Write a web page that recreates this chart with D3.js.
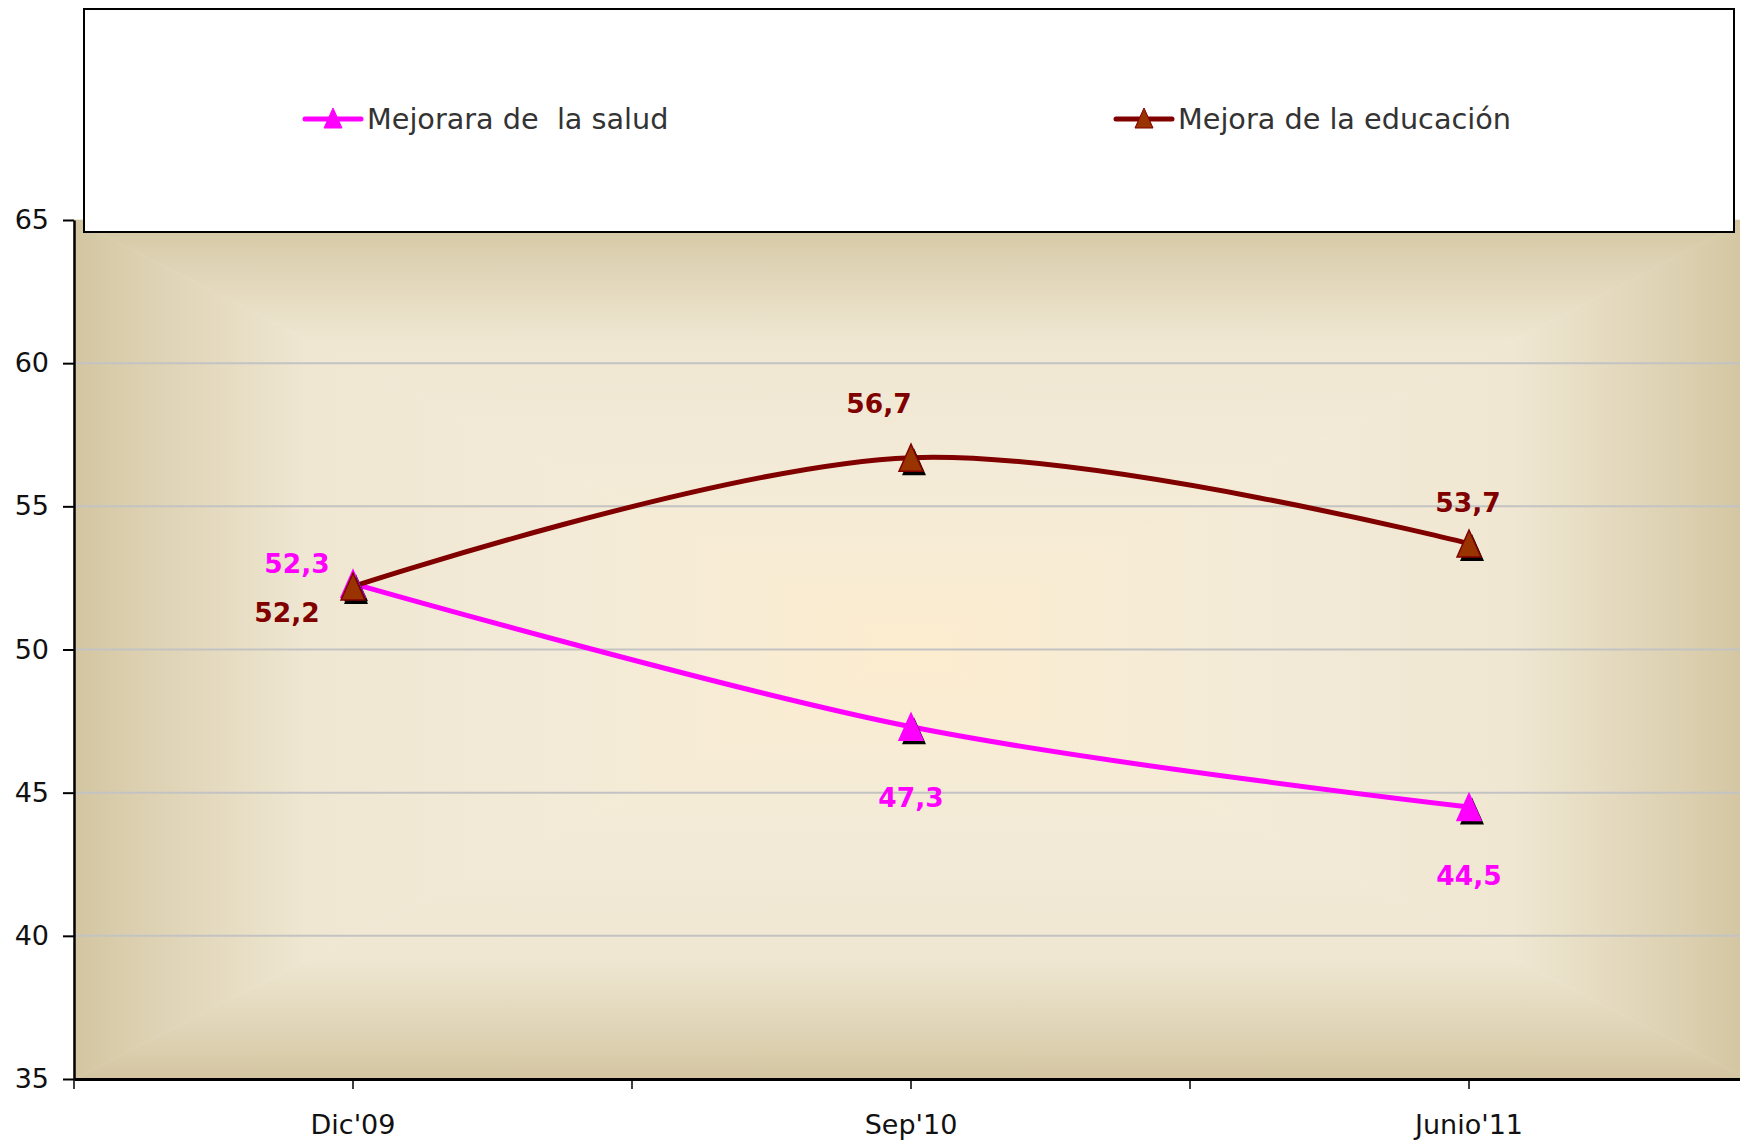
<!DOCTYPE html>
<html>
<head>
<meta charset="utf-8">
<script src="https://cdn.jsdelivr.net/npm/d3@7"></script>
<style>
  body { margin: 0; background: #fff; }
  svg { display: block; }
  text { white-space: pre; }
</style>
</head>
<body>
<div class="chart"></div>
<script>
// data
var categories = ["Dic'09", "Sep'10", "Junio'11"];
var saludValues = [52.3, 47.3, 44.5];
var educacionValues = [52.2, 56.7, 53.7];
var seriesNames = ["Mejorara de  la salud", "Mejora de la educación"];
var yTicks = [35, 40, 45, 50, 55, 60, 65];

var width = 1740, height = 1144;

var svg = d3.select(".chart").append("svg")
    .attr("width", width)
    .attr("height", height);

// plot area (runs a little past the right edge like the original)
var plotL = 74, plotR = 1748, plotT = 220, plotB = 1079;

var x = d3.scaleBand()
    .domain(categories)
    .range([plotL, plotR])
    .padding(0);

var y = d3.scaleLinear()
    .domain([35, 65])
    .range([plotB, plotT]);

// background: rectangular "from center" gradient, built from 4 triangles
var defs = svg.append("defs");
var cx = (plotL + plotR) / 2, cy = (plotT + plotB) / 2;
var stops = [
  [0, "#d3c5a0"], [0.07, "#dbcfaf"], [0.28, "#efe7d2"],
  [0.6, "#f3ebd7"], [0.85, "#f9ecd3"], [1, "#fdedcf"]
];
var sides = [
  { id: "gTop", x1: cx, y1: plotT, x2: cx, y2: cy, pts: [[plotL, plotT], [plotR, plotT], [cx, cy]] },
  { id: "gBot", x1: cx, y1: plotB, x2: cx, y2: cy, pts: [[plotL, plotB], [plotR, plotB], [cx, cy]] },
  { id: "gLeft", x1: plotL, y1: cy, x2: cx, y2: cy, pts: [[plotL, plotT], [plotL, plotB], [cx, cy]] },
  { id: "gRight", x1: plotR, y1: cy, x2: cx, y2: cy, pts: [[plotR, plotT], [plotR, plotB], [cx, cy]] }
];
sides.forEach(function(s) {
  var g = defs.append("linearGradient")
      .attr("id", s.id)
      .attr("gradientUnits", "userSpaceOnUse")
      .attr("x1", s.x1).attr("y1", s.y1)
      .attr("x2", s.x2).attr("y2", s.y2);
  stops.forEach(function(st) {
    g.append("stop").attr("offset", st[0]).attr("stop-color", st[1]);
  });
  svg.append("polygon")
      .attr("points", s.pts.map(function(p) { return p.join(","); }).join(" "))
      .attr("fill", "url(#" + s.id + ")")
      .attr("stroke", "url(#" + s.id + ")")
      .attr("stroke-width", 0.6);
});

// gridlines
svg.append("g").selectAll("line")
    .data(yTicks.filter(function(d) { return d > 35 && d < 65; }))
    .enter().append("line")
    .attr("x1", plotL).attr("x2", plotR)
    .attr("y1", function(d) { return y(d); })
    .attr("y2", function(d) { return y(d); })
    .attr("stroke", "#c3c3c3")
    .attr("stroke-width", 2);

// y axis
var yAxis = svg.append("g")
    .attr("transform", "translate(" + plotL + ",0)")
    .call(d3.axisLeft(y).tickValues(yTicks).tickSize(11).tickPadding(14).tickSizeOuter(0));
yAxis.select(".domain").attr("stroke", "#000").attr("stroke-width", 2.5);
yAxis.selectAll(".tick line").attr("stroke", "#000").attr("stroke-width", 2);
yAxis.selectAll("text")
    .attr("font-family", "DejaVu Sans, sans-serif")
    .attr("font-size", 27)
    .attr("fill", "#111");

// x axis
var xAxis = svg.append("g")
    .attr("transform", "translate(0," + plotB + ")")
    .call(d3.axisBottom(x).tickSize(10).tickPadding(26).tickSizeOuter(0));
xAxis.select(".domain").attr("stroke", "#000").attr("stroke-width", 3);
xAxis.selectAll(".tick line").attr("stroke", "#000").attr("stroke-width", 1.5);
xAxis.selectAll("text")
    .attr("font-family", "DejaVu Sans, sans-serif")
    .attr("font-size", 27)
    .attr("fill", "#111");
// tick marks between categories
xAxis.selectAll(".btick")
    .data(categories)
    .enter().append("line")
    .attr("class", "btick")
    .attr("x1", function(d) { return x(d); })
    .attr("x2", function(d) { return x(d); })
    .attr("y1", 0).attr("y2", 10)
    .attr("stroke", "#000").attr("stroke-width", 1.5);

// lines
var series = [
  { name: seriesNames[0], values: saludValues, line: "#ff00ff", fill: "#ff00ff", stroke: "#ff00ff",
    labelDx: [-56, 0, 0], labelDy: [-11, 80, 78] },
  { name: seriesNames[1], values: educacionValues, line: "#800000", fill: "#993300", stroke: "#800000",
    labelDx: [-66, -32, -1], labelDy: [35, -45, -32] }
];

var lineGen = d3.line()
    .x(function(d, i) { return x(categories[i]) + x.bandwidth() / 2; })
    .y(function(d) { return y(d); })
    .curve(d3.curveCardinal.tension(0));

series.forEach(function(s) {
  svg.append("path")
      .datum(s.values)
      .attr("d", lineGen)
      .attr("fill", "none")
      .attr("stroke", s.line)
      .attr("stroke-width", 5)
      .attr("stroke-linejoin", "round");
});

function tri(cxp, cyp, w, h) {
  return [[cxp, cyp - h / 2], [cxp + w / 2, cyp + h / 2], [cxp - w / 2, cyp + h / 2]]
    .map(function(p) { return p.join(","); }).join(" ");
}

// markers with shadow
series.forEach(function(s) {
  var g = svg.append("g");
  s.values.forEach(function(v, i) {
    var px = x(categories[i]) + x.bandwidth() / 2, py = y(v);
    g.append("polygon").attr("points", tri(px + 3, py + 4, 24, 27)).attr("fill", "#000");
    g.append("polygon").attr("points", tri(px, py, 24, 27))
        .attr("fill", s.fill).attr("stroke", s.stroke).attr("stroke-width", 1.5);
  });
});

// data labels
series.forEach(function(s) {
  svg.append("g").selectAll("text")
      .data(s.values)
      .enter().append("text")
      .attr("x", function(d, i) { return x(categories[i]) + x.bandwidth() / 2 + s.labelDx[i]; })
      .attr("y", function(d, i) { return y(d) + s.labelDy[i]; })
      .attr("text-anchor", "middle")
      .attr("font-family", "DejaVu Sans, sans-serif")
      .attr("font-weight", "bold")
      .attr("font-size", 26.5)
      .attr("fill", s.line)
      .text(function(d) { return String(d).replace(".", ","); });
});

// legend box
var legend = svg.append("g");
legend.append("rect")
    .attr("x", 84).attr("y", 9)
    .attr("width", 1650).attr("height", 223)
    .attr("fill", "#fff")
    .attr("stroke", "#000")
    .attr("stroke-width", 2);

var legendX = [305, 1116];
series.forEach(function(s, i) {
  var lg = legend.append("g").attr("transform", "translate(" + legendX[i] + ",119)");
  lg.append("line")
      .attr("x1", 0).attr("x2", 56)
      .attr("y1", 0).attr("y2", 0)
      .attr("stroke", s.line).attr("stroke-width", 5)
      .attr("stroke-linecap", "round");
  lg.append("polygon").attr("points", tri(28, -1, 18, 20))
      .attr("fill", s.fill).attr("stroke", s.stroke).attr("stroke-width", 1);
  lg.append("text")
      .attr("x", 62).attr("y", 10)
      .attr("font-family", "DejaVu Sans, sans-serif")
      .attr("font-size", 28.7)
      .attr("fill", "#333")
      .text(s.name);
});
</script>
</body>
</html>
